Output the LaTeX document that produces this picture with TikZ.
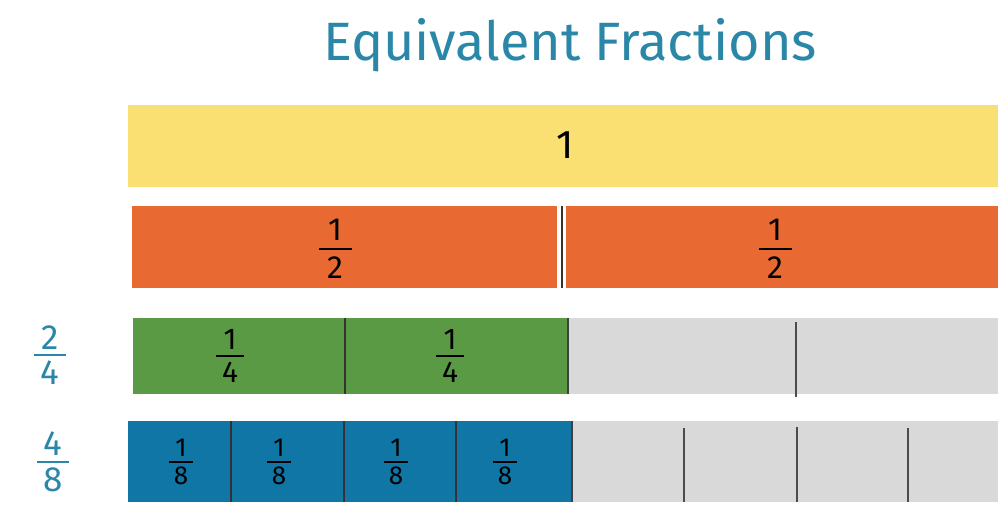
\documentclass[tikz,border=0pt]{standalone}
\usepackage{fontspec}
\setmainfont{Fira Sans}
\definecolor{ttl}{HTML}{2A87A8}
\definecolor{ylw}{HTML}{FADF72}
\definecolor{org}{HTML}{E86A32}
\definecolor{grn}{HTML}{5B9A44}
\definecolor{blu}{HTML}{0F76A6}
\definecolor{gry}{HTML}{D9D9D9}
\definecolor{dv}{HTML}{333333}
% #1 numerator, #2 denominator, #3 font size, #4 rule width, #5 gap
\newcommand{\frc}[5]{\fontsize{#3}{#3}\selectfont\vbox{\offinterlineskip\halign{\hfil##\hfil\cr #1\cr\noalign{\kern#5}\rule{#4}{1.8pt}\cr\noalign{\kern#5}#2\cr}}}
\begin{document}
\begin{tikzpicture}[x=1pt,y=-1pt,
  seg/.style={anchor=north west, inner sep=0pt, outer sep=0pt, draw=none},
  divl/.style={line width=2pt, dv},
  gdiv/.style={line width=2.2pt, black!70},
  lbl/.style={inner sep=0pt, text=black},
  side/.style={inner sep=0pt, text=ttl}]
\useasboundingbox (0,0) rectangle (998,506);
\clip (0,0) rectangle (998,506);
% title
\node[inner sep=0pt, text=ttl, font=\fontsize{54}{54}\selectfont] (title) at (570,45) {Equivalent Fractions};
% whole
\node[seg, fill=ylw, minimum width=880pt, minimum height=82pt] (one) at (128,105) {};
\node[lbl, font=\fontsize{40}{40}\selectfont] (onel) at (565,145) {1};
% halves
\node[seg, fill=org, minimum width=425pt, minimum height=82pt] (h1) at (132,206) {};
\node[seg, fill=org, minimum width=440pt, minimum height=82pt] (h2) at (566,206) {};
\draw[divl] (562,206) coordinate (hd1) -- (562,288) coordinate (hd2);
\node[lbl] (h1l) at (335,249) {\frc{1}{2}{32}{33pt}{7pt}};
\node[lbl] (h2l) at (775,249) {\frc{1}{2}{32}{33pt}{7pt}};
% quarters
\node[seg, fill=grn, minimum width=212pt, minimum height=76pt] (q1) at (133,318) {};
\node[seg, fill=grn, minimum width=223pt, minimum height=76pt] (q2) at (345,318) {};
\node[seg, fill=gry, minimum width=228pt, minimum height=76pt] (q3) at (568,318) {};
\node[seg, fill=gry, minimum width=210pt, minimum height=76pt] (q4) at (796,318) {};
\draw[divl] (q1.north east) -- (q1.south east);
\draw[line width=2.5pt, black!75] (q2.north east) -- (q2.south east);
\draw[gdiv] ([yshift=-4pt]q3.north east) -- ([yshift=-3pt]q3.south east);
\node[lbl] (q1l) at (230,356) {\frc{1}{4}{30}{28pt}{5pt}};
\node[lbl] (q2l) at (450,356) {\frc{1}{4}{30}{28pt}{5pt}};
\node[side] (twofour) at (50,355) {\frc{2}{4}{35}{32pt}{5pt}};
% eighths
\node[seg, fill=blu, minimum width=103pt, minimum height=81pt] (e1) at (128,421) {};
\node[seg, fill=blu, minimum width=113pt, minimum height=81pt] (e2) at (231,421) {};
\node[seg, fill=blu, minimum width=112pt, minimum height=81pt] (e3) at (344,421) {};
\node[seg, fill=blu, minimum width=116pt, minimum height=81pt] (e4) at (456,421) {};
\node[seg, fill=gry, minimum width=112pt, minimum height=81pt] (e5) at (572,421) {};
\node[seg, fill=gry, minimum width=113pt, minimum height=81pt] (e6) at (684,421) {};
\node[seg, fill=gry, minimum width=111pt, minimum height=81pt] (e7) at (797,421) {};
\node[seg, fill=gry, minimum width=100pt, minimum height=81pt] (e8) at (908,421) {};
\draw[divl] (e1.north east) -- (e1.south east);
\draw[divl] (e2.north east) -- (e2.south east);
\draw[divl] (e3.north east) -- (e3.south east);
\draw[line width=2.5pt, black!75] (e4.north east) -- (e4.south east);
\draw[gdiv] ([yshift=-7pt]e5.north east) -- (e5.south east);
\draw[gdiv] ([yshift=-6pt]e6.north east) -- (e6.south east);
\draw[gdiv] ([yshift=-7pt]e7.north east) -- (e7.south east);
\node[lbl] (e1l) at (181,462) {\frc{1}{8}{26}{24pt}{4pt}};
\node[lbl] (e2l) at (279,462) {\frc{1}{8}{26}{24pt}{4pt}};
\node[lbl] (e3l) at (396,462) {\frc{1}{8}{26}{24pt}{4pt}};
\node[lbl] (e4l) at (505,462) {\frc{1}{8}{26}{24pt}{4pt}};
\node[side] (foureight) at (53,462) {\frc{4}{8}{35}{32pt}{5pt}};
\end{tikzpicture}
\end{document}
